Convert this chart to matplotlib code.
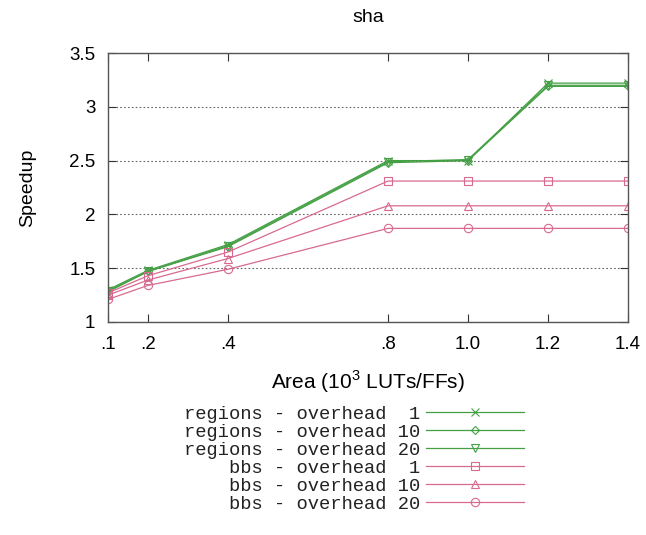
import matplotlib
matplotlib.use("Agg")
import matplotlib.pyplot as plt

plt.rcParams["font.family"] = ["Liberation Sans", "DejaVu Sans"]
plt.rcParams["mathtext.fontset"] = "custom"
plt.rcParams["mathtext.rm"] = "Liberation Sans"

# Area in 10^3 LUTs/FFs
area = [0.1, 0.2, 0.4, 0.8, 1.0, 1.2, 1.4]
area_labels = [".1", ".2", ".4", ".8", "1.0", "1.2", "1.4"]

regions_oh1 = [1.30, 1.48, 1.72, 2.50, 2.50, 3.22, 3.22]
regions_oh10 = [1.28, 1.47, 1.70, 2.48, 2.50, 3.19, 3.19]
regions_oh20 = [1.29, 1.47, 1.71, 2.49, 2.51, 3.20, 3.20]
bbs_oh1 = [1.27, 1.43, 1.65, 2.31, 2.31, 2.31, 2.31]
bbs_oh10 = [1.25, 1.39, 1.59, 2.08, 2.08, 2.08, 2.08]
bbs_oh20 = [1.21, 1.34, 1.49, 1.87, 1.87, 1.87, 1.87]

series_labels = [
    "regions - overhead  1",
    "regions - overhead 10",
    "regions - overhead 20",
    "    bbs - overhead  1",
    "    bbs - overhead 10",
    "    bbs - overhead 20",
]

green = "#45a045"
pink = "#d86a90"

fig = plt.figure(figsize=(6.46, 5.35), dpi=100)
ax = fig.add_axes([108 / 646, 1 - 322 / 535, 520 / 646, 269 / 535])

styles = [
    (regions_oh1, green, "x"),
    (regions_oh10, green, "D"),
    (regions_oh20, green, "v"),
    (bbs_oh1, pink, "s"),
    (bbs_oh10, pink, "^"),
    (bbs_oh20, pink, "o"),
]
handles = []
for (vals, col, mk), lab in zip(styles, series_labels):
    ms = 6 if mk != "D" else 4.5
    (h,) = ax.plot(area, vals, color=col, lw=0.9, marker=mk, ms=ms,
                   mfc="none", mec=col, mew=0.8, label=lab)
    handles.append(h)

ax.set_xlim(0.1, 1.4)
ax.set_ylim(1, 3.5)
ax.set_xticks(area)
ax.set_xticklabels(area_labels)
ax.set_yticks([1, 1.5, 2, 2.5, 3, 3.5])
ax.set_yticklabels(["1", "1.5", "2", "2.5", "3", "3.5"])
ax.tick_params(direction="in", top=True, right=True, length=6, width=0.8,
               labelsize=13.5, colors="#333333", labelcolor="black")
ax.tick_params(axis="x", pad=10)
ax.tick_params(axis="y", pad=9)
ax.yaxis.grid(True, linestyle=(0, (1.5, 2)), color="#666666", lw=0.8)
for s in ax.spines.values():
    s.set_color("#555555")
    s.set_linewidth(1.0)

ax.set_title("sha", fontsize=14, pad=22)
ax.set_ylabel("Speedup", fontsize=14, labelpad=24)
ax.set_xlabel("Area (10$^3$ LUTs/FFs)", fontsize=15, labelpad=11)

leg = fig.legend(handles=handles, loc="upper right",
                 bbox_to_anchor=(531 / 646, 1 - 398 / 535),
                 prop={"family": "Liberation Mono", "size": 13.5},
                 markerfirst=False, frameon=False, handlelength=5.2,
                 labelspacing=0.05, handletextpad=0.3, borderaxespad=0)
for t in leg.get_texts():
    t.set_color("#222222")

fig.savefig("out.png", dpi=100)
